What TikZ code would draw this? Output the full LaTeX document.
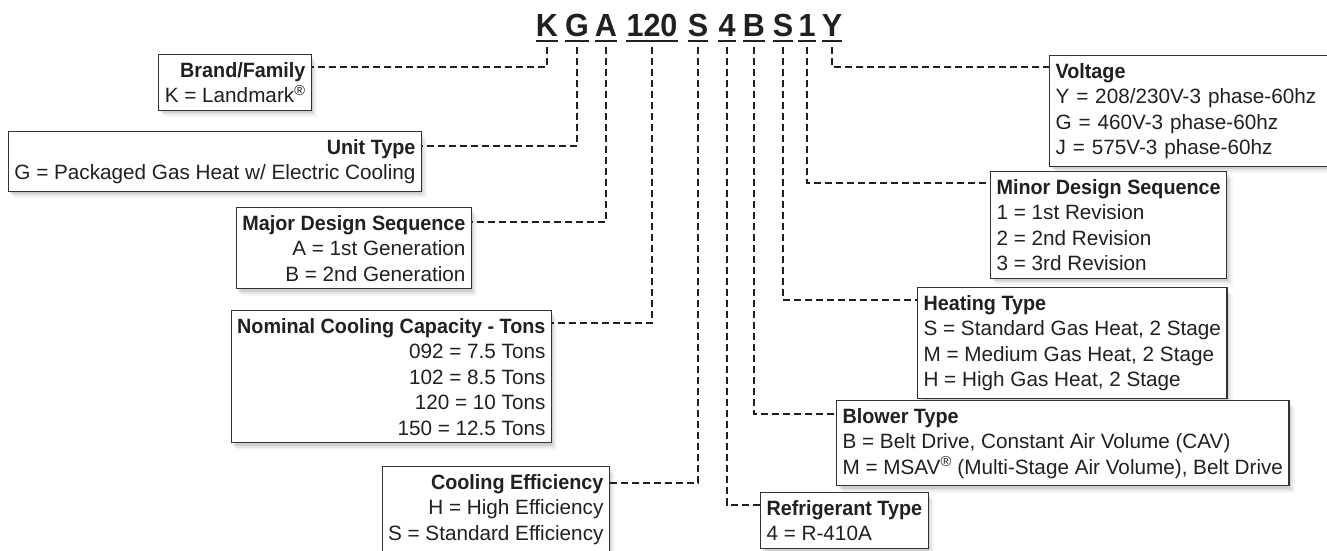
\documentclass[tikz,border=0pt]{standalone}
\usepackage{fontspec}
\setmainfont{Liberation Sans}[BoldFeatures={FakeStretch=0.955}]
\usetikzlibrary{positioning,shadows}
\definecolor{Ink}{HTML}{231F20}
\definecolor{Frame}{HTML}{333333}
\tikzset{
 softshadow/.style={drop shadow={shadow xshift=2pt, shadow yshift=-3pt, opacity=0.22},
   drop shadow={shadow xshift=4pt, shadow yshift=-5pt, opacity=0.14},
   drop shadow={shadow xshift=6pt, shadow yshift=-7pt, opacity=0.07}},
 block/.style={draw=Frame, line width=1.1pt, fill=white, inner xsep=6pt, inner ysep=7.5pt, text=Ink, font=\fontsize{20.7}{25.5}\selectfont, softshadow},
 leftblock/.style={block, align=right, anchor=north east},
 rightblock/.style={block, align=left, anchor=north west},
 codechar/.style={font=\fontsize{32}{32}\selectfont\bfseries, text=Ink, anchor=base, inner xsep=0pt, inner ysep=5pt, text depth=0pt},
 codeline/.style={draw=Ink, line width=2.5pt},
 dashlink/.style={draw=Ink, line width=1.8pt, dash pattern=on 7pt off 4pt}
}

\begin{document}
\begin{tikzpicture}[x=1pt,y=-1pt]
\useasboundingbox (0,0) rectangle (1327,550);

% model number
\node[codechar] (cK) at (547,36) {K};
\node[codechar] (cG) at (577,36) {G};
\node[codechar] (cA) at (606,36) {A};
\node[codechar] (c120) at (652,36) {120};
\node[codechar] (cS) at (698,36) {S};
\node[codechar] (c4) at (727,36) {4};
\node[codechar] (cB) at (754,36) {B};
\node[codechar] (cSb) at (783,36) {S};
\node[codechar] (c1) at (807,36) {1};
\node[codechar] (cY) at (832,36) {Y};
\foreach \c in {cK,cG,cA,c120,cS,c4,cB,cSb,c1,cY}
  \draw[codeline] (\c.south west) -- (\c.south east);

% left side
\node[leftblock] (brand) at (312,54) {\textbf{Brand/Family}\\K = Landmark\textsuperscript{®}};
\node[leftblock] (unit) at (422,131) {\textbf{Unit Type}\\G = Packaged Gas Heat w/ Electric Cooling};
\node[leftblock] (major) at (472,207) {\textbf{Major Design Sequence}\\A = 1st Generation\\B = 2nd Generation};
\node[leftblock] (nominal) at (552,310) {\textbf{Nominal Cooling Capacity - Tons}\\092 = 7.5 Tons\\102 = 8.5 Tons\\120 = 10 Tons\\150 = 12.5 Tons};
\node[leftblock] (cooleff) at (610,466) {\textbf{Cooling Efficiency}\\H = High Efficiency\\S = Standard Efficiency};

% right side
\node[rightblock, text width=275pt] (voltage) at (1049,55) {\textbf{Voltage}\\Y = 208/230V-3 phase-60hz\\G = 460V-3 phase-60hz\\J = 575V-3 phase-60hz};
\node[rightblock] (minor) at (990,171) {\textbf{Minor Design Sequence}\\1 = 1st Revision\\2 = 2nd Revision\\3 = 3rd Revision};
\node[rightblock] (heating) at (917,287) {\textbf{Heating Type}\\S = Standard Gas Heat, 2 Stage\\M = Medium Gas Heat, 2 Stage\\H = High Gas Heat, 2 Stage};
\node[rightblock] (blower) at (836,400) {\textbf{Blower Type}\\B = Belt Drive, Constant Air Volume (CAV)\\M = MSAV\textsuperscript{®} (Multi-Stage Air Volume), Belt Drive};
\node[rightblock] (refrig) at (760,492) {\textbf{Refrigerant Type}\\4 = R-410A};

% dashed leaders
\draw[dashlink] ([yshift=-6pt]cK.south) |- ([yshift=-13pt]brand.north east);
\draw[dashlink] ([yshift=-6pt]cG.south) |- ([yshift=-15pt]unit.north east);
\draw[dashlink] ([yshift=-6pt]cA.south) |- ([yshift=-15pt]major.north east);
\draw[dashlink] ([yshift=-6pt]c120.south) |- ([yshift=-13pt]nominal.north east);
\draw[dashlink] ([yshift=-6pt]cS.south) |- ([yshift=-17pt]cooleff.north east);
\draw[dashlink] ([yshift=-6pt]c4.south) |- ([yshift=-13pt]refrig.north west);
\draw[dashlink] ([yshift=-6pt]cB.south) |- ([yshift=-14pt]blower.north west);
\draw[dashlink] ([yshift=-6pt]cSb.south) |- ([yshift=-13pt]heating.north west);
\draw[dashlink] ([yshift=-6pt]c1.south) |- ([yshift=-12pt]minor.north west);
\draw[dashlink] ([yshift=-6pt]cY.south) |- ([yshift=-12pt]voltage.north west);
\end{tikzpicture}
\end{document}
